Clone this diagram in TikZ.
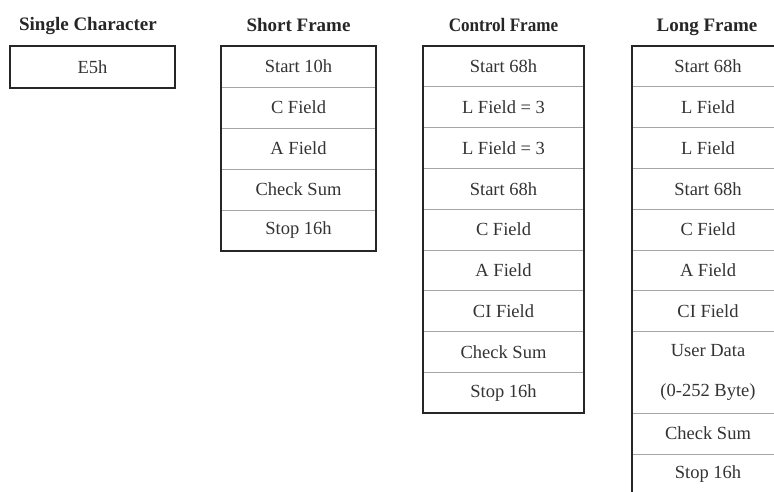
\documentclass[tikz,border=0pt]{standalone}
\usepackage{fontspec}
\setmainfont{Liberation Serif}
\usetikzlibrary{positioning}
\tikzset{
	cell/.style={draw=black!35, line width=0.9pt, inner sep=0pt, outer sep=0pt, anchor=north,
		minimum height=40.8pt, text=black!80, font=\fontsize{18.5}{20}\selectfont},
	title/.style={anchor=base, text=black!85, font=\fontsize{19}{21}\selectfont\bfseries},
	frameline/.style={line width=2.4pt, black!85},
}
\begin{document}
\begin{tikzpicture}[x=1pt,y=-1pt]
	\useasboundingbox (0,0) rectangle (774,491);
	\clip (0,0) rectangle (774,491);
	% single character
	\node[title] (t-single) at (88,30) {Single Character};
	\node[cell, minimum width=165pt, minimum height=42pt] (single-1) at (92.5,46) {E5h};
	\draw[frameline] (single-1.north west) rectangle (single-1.south east);
	% short frame
	\node[title] (t-short) at (298.5,31) {Short Frame};
	\foreach \lbl [count=\i] in {Start 10h, C Field, A Field, Check Sum, Stop 16h}
	{
		\node[cell, minimum width=155pt, minimum height=41pt] (short-\i) at ({298.5},{46+(\i-1)*41}) {\lbl};
	}
	\draw[frameline] (short-1.north west) rectangle (short-5.south east);
	% control frame
	\node[title] (t-control) at (503.5,31) {\scalebox{0.9}[1]{Control Frame}};
	\foreach \lbl [count=\i] in {Start 68h, L Field = 3, L Field = 3, Start 68h, C Field, A Field, CI Field, Check Sum, Stop 16h}
	{
		\node[cell, minimum width=161pt] (control-\i) at ({503.5},{46+(\i-1)*40.8}) {\lbl};
	}
	\draw[frameline] (control-1.north west) rectangle (control-9.south east);
	% long frame
	\node[title] (t-long) at (707,31) {Long Frame};
	\foreach \lbl [count=\i] in {Start 68h, L Field, L Field, Start 68h, C Field, A Field, CI Field}
	{
		\node[cell, minimum width=152pt] (long-\i) at ({708},{46+(\i-1)*40.8}) {\lbl};
	}
	\node[cell, minimum width=152pt, minimum height=81.6pt, align=center, below=0pt of long-7] (long-8) {User Data\\[20pt](0-252 Byte)};
	\node[cell, minimum width=152pt, below=0pt of long-8] (long-9) {Check Sum};
	\node[cell, minimum width=152pt, below=0pt of long-9] (long-10) {Stop 16h};
	\draw[frameline] (long-1.north west) rectangle (long-10.south east);
\end{tikzpicture}
\end{document}
